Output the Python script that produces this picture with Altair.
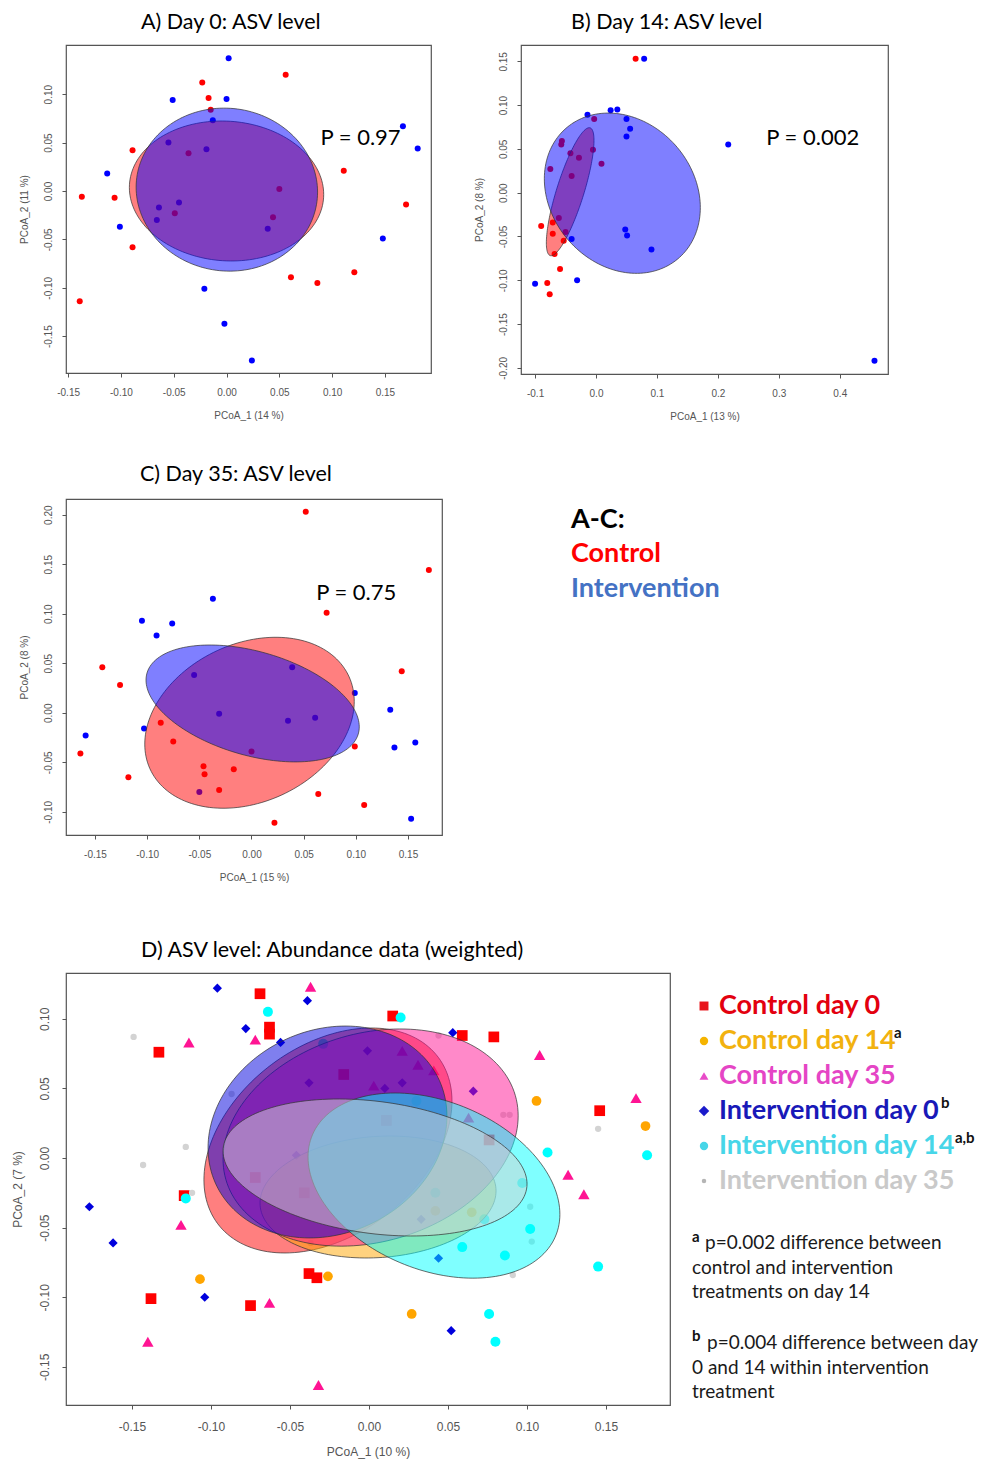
import altair as alt
import numpy as np
import pandas as pd

TXT_FONT = "Lato"
AX_FONT = "Liberation Sans"

# ---------------- Panel A: Day 0 ----------------
A_ctrl_x = [-0.023, 0.056, -0.017, -0.015, -0.089, -0.036, 0.111, -0.137, -0.106, 0.050, 0.170, -0.049, 0.044, -0.089, 0.061, 0.086, 0.121, -0.139]
A_ctrl_y = [0.112, 0.120, 0.096, 0.084, 0.042, 0.039, 0.021, -0.006, -0.007, 0.002, -0.014, -0.023, -0.027, -0.058, -0.089, -0.095, -0.084, -0.114]
A_int_x = [0.002, -0.051, 0.000, -0.013, -0.055, -0.019, -0.113, -0.064, -0.045, -0.066, 0.039, -0.101, 0.167, 0.181, 0.148, -0.021, -0.002, 0.024]
A_int_y = [0.137, 0.094, 0.095, 0.073, 0.050, 0.043, 0.018, -0.017, -0.012, -0.030, -0.039, -0.037, 0.067, 0.044, -0.049, -0.101, -0.137, -0.175]
# ellipse: centre x, centre y, half-width, half-height, tilt
A_ell_ctrl = [0.000, 0.000, 0.092, 0.0723, -0.05]
A_ell_int = [0.0003, 0.0014, 0.0859, 0.0842, -0.03]

# ---------------- Panel B: Day 14 ----------------
B_ctrl_x = [0.065, -0.003, -0.056, -0.057, -0.042, -0.028, -0.005, 0.009, -0.075, -0.040, -0.061, -0.071, -0.050, -0.071, -0.053, -0.090, -0.068, -0.059, -0.080, -0.076]
B_ctrl_y = [0.153, 0.084, 0.059, 0.055, 0.045, 0.040, 0.049, 0.033, 0.027, 0.019, -0.029, -0.034, -0.045, -0.047, -0.055, -0.038, -0.070, -0.087, -0.103, -0.116]
B_int_x = [0.079, -0.014, 0.024, 0.035, 0.050, 0.056, 0.050, 0.217, -0.040, 0.048, 0.051, 0.091, -0.031, -0.100, 0.457]
B_int_y = [0.153, 0.089, 0.094, 0.095, 0.084, 0.073, 0.064, 0.055, -0.053, -0.042, -0.049, -0.065, -0.100, -0.104, -0.192]
B_ell_ctrl = [-0.0424, 0.0011, 0.0391, 0.0731, 0.80]
B_ell_int = [0.0432, -0.0006, 0.128, 0.0915, -0.18]

# ---------------- Panel C: Day 35 ----------------
C_ctrl_x = [0.052, 0.170, 0.072, -0.143, -0.126, 0.144, -0.087, -0.075, -0.164, 0.099, 0.000, -0.046, -0.045, -0.017, -0.118, -0.031, 0.064, 0.108, 0.022]
C_ctrl_y = [0.203, 0.144, 0.101, 0.046, 0.028, 0.042, -0.010, -0.029, -0.041, -0.034, -0.039, -0.054, -0.062, -0.057, -0.065, -0.078, -0.082, -0.093, -0.111]
C_int_x = [-0.037, -0.105, -0.076, -0.091, -0.055, 0.039, 0.099, -0.031, 0.035, 0.061, 0.133, -0.103, -0.159, 0.137, 0.157, 0.153, -0.050]
C_int_y = [0.115, 0.093, 0.090, 0.078, 0.038, 0.046, 0.020, -0.001, -0.008, -0.005, 0.003, -0.016, -0.023, -0.035, -0.030, -0.107, -0.080]
C_ell_ctrl = [-0.0019, -0.0101, 0.1004, 0.0863, 0.25]
C_ell_int = [0.0011, 0.0094, 0.1022, 0.059, -0.40]

# ---------------- Panel D: weighted, six groups ----------------
D_groups = ["Control day 0", "Control day 14", "Control day 35",
            "Intervention day 0", "Intervention day 14", "Intervention day 35"]
D_c0_x = [-0.069, -0.133, -0.063, -0.063, 0.015, 0.059, 0.079, 0.146, -0.016, 0.011, 0.076, -0.072, -0.117, -0.038, -0.033, -0.138, -0.075, -0.041]
D_c0_y = [0.118, 0.076, 0.094, 0.089, 0.102, 0.088, 0.087, 0.034, 0.060, 0.027, 0.013, -0.014, -0.027, -0.083, -0.086, -0.101, -0.106, -0.025]
D_c14_x = [0.106, 0.175, -0.107, -0.026, 0.027, 0.065, 0.042]
D_c14_y = [0.041, 0.023, -0.087, -0.085, -0.112, -0.039, -0.038]
D_c35_x = [-0.037, -0.114, -0.072, 0.108, 0.169, 0.126, 0.021, 0.031, 0.041, 0.003, 0.063, 0.136, -0.119, -0.063, -0.140, -0.032]
D_c35_y = [0.123, 0.083, 0.085, 0.074, 0.043, -0.012, 0.077, 0.067, 0.063, 0.052, 0.029, -0.026, -0.048, -0.104, -0.132, -0.163]
D_i0_x = [-0.096, -0.039, -0.078, -0.056, 0.053, -0.001, -0.038, 0.021, 0.010, 0.066, -0.046, -0.177, -0.162, -0.104, 0.044, 0.052, 0.033]
D_i0_y = [0.122, 0.113, 0.093, 0.083, 0.090, 0.077, 0.054, 0.054, 0.050, 0.048, 0.002, -0.035, -0.061, -0.100, -0.072, -0.124, -0.044]
D_i14_x = [-0.064, 0.020, 0.113, 0.176, 0.030, 0.097, -0.116, 0.073, 0.102, 0.086, 0.145, 0.076, 0.080, 0.042, 0.059, -0.029]
D_i14_y = [0.105, 0.101, 0.004, 0.002, 0.041, -0.018, -0.029, -0.044, -0.051, -0.070, -0.078, -0.112, -0.132, -0.025, -0.064, 0.082]
D_i35_x = [-0.149, -0.116, -0.143, 0.145, 0.044, 0.085, 0.089, -0.087, -0.112, 0.102, 0.103, 0.091, -0.037]
D_i35_y = [0.087, 0.008, -0.005, 0.021, 0.088, 0.031, 0.031, 0.046, -0.025, -0.035, -0.060, -0.084, -0.061]
D_ells = [
    [-0.026, 0.0126, 0.0785, 0.0808, 0.35],
    [0.0057, -0.028, 0.0747, 0.0438, 0.10],
    [0.001, 0.0147, 0.0934, 0.078, 0.20],
    [-0.0263, 0.0187, 0.0756, 0.0761, 0.15],
    [0.0411, -0.0198, 0.0797, 0.0665, -0.31],
    [0.0038, -0.0068, 0.0962, 0.0492, -0.24],
]
D_colors = ["#FF0000", "#FFA500", "#FF1493", "#0000DD", "#00FFFF", "#D3D3D3"]
D_shapes = ["square", "circle", "triangle-up", "diamond", "circle", "circle"]
D_sizes = [115, 95, 130, 85, 100, 40]

D_legend_colors = ["#E3000F", "#F2B20F", "#E545C5", "#1919B8", "#47D6E8", "#C9C9C9"]
D_marker_colors = ["#E8141B", "#F5B400", "#E84BC8", "#1A1ACB", "#47D6E8", "#B5B5B5"]
D_marker_sizes = [80, 70, 80, 110, 70, 20]
D_supers = ["", "a", "", "b", "a,b", ""]
D_super_x = [0, 214, 0, 261, 275, 0]
FOOT_A = ["p=0.002 difference between", "control and intervention", "treatments on day 14"]
FOOT_B = ["p=0.004 difference between day", "0 and 14 within intervention", "treatment"]

HYPHEN_EXPR = "replace(datum.label, '\u2212', '-')"


def ellipse_df(p, n=160):
    cx, cy, w, h, s = p
    t = np.linspace(0, 2 * np.pi, n + 1)
    phi = np.arcsin(s)
    return pd.DataFrame({"x": cx + w * np.cos(t), "y": cy + h * np.sin(t + phi), "o": np.arange(n + 1)})


def axes(xvals, yvals, xfmt, yfmt, xtitle, ytitle, fs, lp_x, lp_y, tp_x, tp_y):
    common = dict(domain=False, grid=False, ticks=True, tickSize=4, tickColor="#555",
                  labelFont=AX_FONT, labelFontSize=fs, labelColor="#555",
                  titleFont=AX_FONT, titleFontSize=fs, titleFontWeight="normal",
                  titleColor="#555", labelOverlap=False, labelExpr=HYPHEN_EXPR)
    xa = alt.Axis(values=xvals, format=xfmt, title=xtitle, labelPadding=lp_x, titlePadding=tp_x, **common)
    ya = alt.Axis(values=yvals, format=yfmt, title=ytitle, labelAngle=270, labelAlign="center",
                  labelBaseline="bottom", labelPadding=lp_y, titlePadding=tp_y, **common)
    return xa, ya


def panel(title, tdx, groups, ells, xdom, ydom, xa, ya, w, h, ptext, ptx, pty, toff):
    xs = alt.Scale(domain=xdom, nice=False, zero=False)
    ys = alt.Scale(domain=ydom, nice=False, zero=False)
    X = alt.X("x:Q", scale=xs, axis=xa)
    Y = alt.Y("y:Q", scale=ys, axis=ya)
    layers = []
    for gx, gy, col in groups:
        df = pd.DataFrame({"x": gx, "y": gy})
        layers.append(alt.Chart(df).mark_point(filled=True, size=36, opacity=1, color=col)
                      .encode(x=X, y=Y))
    for p, col in ells:
        layers.append(alt.Chart(ellipse_df(p)).mark_line(fill=col, fillOpacity=0.5, stroke="#333",
                                                         strokeWidth=0.8, strokeOpacity=0.9)
                      .encode(x=X, y=Y, order="o:Q"))
    tdf = pd.DataFrame({"x": [ptx], "y": [pty], "t": [ptext]})
    layers.append(alt.Chart(tdf).mark_text(align="left", baseline="middle", font=TXT_FONT,
                                           fontSize=22, color="black")
                  .encode(x=X, y=Y, text="t:N"))
    return alt.layer(*layers).properties(
        width=w, height=h,
        title=alt.TitleParams(title, anchor="start", dx=tdx, offset=toff, font=TXT_FONT,
                              fontSize=21.5, fontWeight="normal", color="black", frame="group"),
        view=alt.ViewBackground(stroke="#555", strokeWidth=1.2),
    )


RED, BLUE = "#FF0000", "#0000FF"

xa, ya = axes([-0.15, -0.10, -0.05, 0.0, 0.05, 0.10, 0.15], [-0.15, -0.10, -0.05, 0.0, 0.05, 0.10],
              ".2f", ".2f", "PCoA_1 (14 %)", "PCoA_2 (11 %)", 10, 10, 9, 13, 14)
pA = panel("A) Day 0: ASV level", 75, [(A_ctrl_x, A_ctrl_y, RED), (A_int_x, A_int_y, BLUE)],
           [(A_ell_ctrl, RED), (A_ell_int, BLUE)], [-0.152, 0.1936], [-0.188, 0.1508], xa, ya,
           365, 328, "P = 0.97", 0.089, 0.055, 12)

xa, ya = axes([-0.1, 0.0, 0.1, 0.2, 0.3, 0.4], [-0.20, -0.15, -0.10, -0.05, 0.0, 0.05, 0.10, 0.15],
              ".1f", ".2f", "PCoA_1 (13 %)", "PCoA_2 (8 %)", 10, 10, 9, 13, 14)
pB = panel("B) Day 14: ASV level", 50, [(B_ctrl_x, B_ctrl_y, RED), (B_int_x, B_int_y, BLUE)],
           [(B_ell_ctrl, RED), (B_ell_int, BLUE)], [-0.1231, 0.4792], [-0.207, 0.1686], xa, ya,
           367, 329, "P = 0.002", 0.2795, 0.0624, 12)

xa, ya = axes([-0.15, -0.10, -0.05, 0.0, 0.05, 0.10, 0.15], [-0.10, -0.05, 0.0, 0.05, 0.10, 0.15, 0.20],
              ".2f", ".2f", "PCoA_1 (15 %)", "PCoA_2 (8 %)", 10, 10, 9, 13, 14)
pC = panel("C) Day 35: ASV level", 74, [(C_ctrl_x, C_ctrl_y, RED), (C_int_x, C_int_y, BLUE)],
           [(C_ell_ctrl, RED), (C_ell_int, BLUE)], [-0.1778, 0.1826], [-0.1234, 0.2158], xa, ya,
           376, 336, "P = 0.75", 0.062, 0.1214, 14)

# ---- Panel D ----
xsD = alt.Scale(domain=[-0.1918, 0.1905], nice=False, zero=False)
ysD = alt.Scale(domain=[-0.1774, 0.1329], nice=False, zero=False)
xaD, yaD = axes([-0.15, -0.10, -0.05, 0.0, 0.05, 0.10, 0.15], [-0.15, -0.10, -0.05, 0.0, 0.05, 0.10],
                ".2f", ".2f", "PCoA_1 (10 %)", "PCoA_2 (7 %)", 12, 12, 11, 14, 14)
XD = alt.X("x:Q", scale=xsD, axis=xaD)
YD = alt.Y("y:Q", scale=ysD, axis=yaD)
D_pts = [(D_c0_x, D_c0_y), (D_c14_x, D_c14_y), (D_c35_x, D_c35_y),
         (D_i0_x, D_i0_y), (D_i14_x, D_i14_y), (D_i35_x, D_i35_y)]
d_layers = []
for (gx, gy), col, shp, sz in zip(D_pts, D_colors, D_shapes, D_sizes):
    d_layers.append(alt.Chart(pd.DataFrame({"x": gx, "y": gy}))
                    .mark_point(filled=True, shape=shp, size=sz, opacity=1, color=col)
                    .encode(x=XD, y=YD))
for p, col in zip(D_ells, D_colors):
    d_layers.append(alt.Chart(ellipse_df(p)).mark_line(fill=col, fillOpacity=0.5, stroke="#333",
                                                       strokeWidth=0.8, strokeOpacity=0.9)
                    .encode(x=XD, y=YD, order="o:Q"))
pD = alt.layer(*d_layers).properties(
    width=604, height=432,
    title=alt.TitleParams("D) ASV level: Abundance data (weighted)", anchor="start", dx=75, offset=12,
                          font=TXT_FONT, fontSize=21.5, fontWeight="normal", color="black", frame="group"),
    view=alt.ViewBackground(stroke="#555", strokeWidth=1.2),
)

one = pd.DataFrame({"k": [0]})


def txt(t, x, y, size, color, weight="normal"):
    return alt.Chart(one).mark_text(text=t, align="left", baseline="middle", font=TXT_FONT,
                                    fontSize=size, fontWeight=weight, color=color
                                    ).encode(x=alt.value(x), y=alt.value(y))


# ---- legend for A-C ----
legAC = alt.layer(
    txt("A-C:", 12, 21, 27, "black", "bold"),
    txt("Control", 12, 55, 27, "#FF0000", "bold"),
    txt("Intervention", 12, 90, 27, "#4472C4", "bold"),
).properties(width=200, height=336, view=alt.ViewBackground(stroke="transparent"))

# ---- legend for D ----
leg_layers = []
for i, g in enumerate(D_groups):
    yy = 33 + 35 * i
    leg_layers.append(alt.Chart(one).mark_point(filled=True, shape=D_shapes[i], size=D_marker_sizes[i],
                                                opacity=1, color=D_marker_colors[i])
                      .encode(x=alt.value(24), y=alt.value(yy)))
    leg_layers.append(txt(g, 39, yy, 27, D_legend_colors[i], "bold"))
    if D_supers[i]:
        leg_layers.append(txt(D_supers[i], D_super_x[i], yy - 8, 15, "#111", "bold"))
leg_layers.append(txt("a", 12, 264, 15, "#111", "bold"))
for j, line in enumerate(FOOT_A):
    leg_layers.append(txt(line, 25 if j == 0 else 12, 270 + 24.5 * j, 19, "#1a1a1a"))
leg_layers.append(txt("b", 12, 363, 15, "#111", "bold"))
for j, line in enumerate(FOOT_B):
    leg_layers.append(txt(line, 27 if j == 0 else 12, 370 + 24.5 * j, 19, "#1a1a1a"))
legD = alt.layer(*leg_layers).properties(width=300, height=432,
                                         view=alt.ViewBackground(stroke="transparent"))

# flush layout: nested rows count as zero height, so spacing is top-to-top distance
row1 = alt.hconcat(pA, pB, spacing=90, bounds="flush")
row2 = alt.hconcat(pC, legAC, spacing=117, bounds="flush")
row3 = alt.hconcat(pD, legD, spacing=10, bounds="flush")
top = alt.vconcat(row1, row2, spacing=454, bounds="flush")
chart = alt.vconcat(top, row3, spacing=928, bounds="flush").properties(
    padding={"left": 2, "top": 2, "right": 0, "bottom": 6}
).configure_view(stroke="transparent")

chart.save("out.html", embed_options={"renderer": "svg", "actions": False})
